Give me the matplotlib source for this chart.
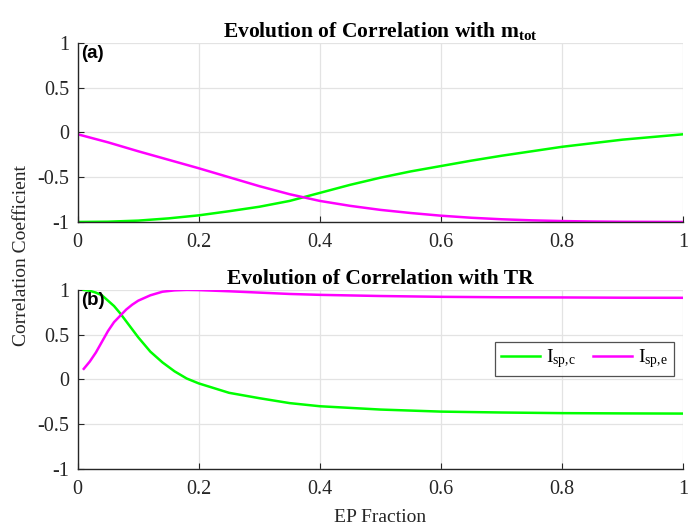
import matplotlib
matplotlib.use("Agg")
import matplotlib.pyplot as plt

# ── Data ──────────────────────────────────────────────────────────────────────
EP_TOP = [0.00, 0.05, 0.10, 0.15, 0.20, 0.25, 0.30, 0.35, 0.40, 0.45, 0.50,
          0.55, 0.60, 0.65, 0.70, 0.75, 0.80, 0.85, 0.90, 0.95, 1.00]
MTOT_ISPC = [-1.000, -0.997, -0.985, -0.960, -0.926, -0.880, -0.830, -0.765, -0.675,
             -0.585, -0.505, -0.435, -0.375, -0.315, -0.260, -0.210, -0.160, -0.120,
             -0.080, -0.050, -0.020]
MTOT_ISPE = [-0.020, -0.110, -0.210, -0.305, -0.400, -0.500, -0.600, -0.690, -0.765,
             -0.820, -0.865, -0.900, -0.930, -0.953, -0.970, -0.982, -0.990, -0.995,
             -0.998, -0.999, -1.000]

EP_BOT = [0.01, 0.02, 0.03, 0.04, 0.05, 0.06, 0.07, 0.08, 0.09, 0.10, 0.12, 0.14,
          0.16, 0.18, 0.20, 0.25, 0.30, 0.35, 0.40, 0.50, 0.60, 0.70, 0.80, 0.90, 1.00]
TR_ISPC = [1.000, 0.990, 0.970, 0.940, 0.880, 0.820, 0.740, 0.650, 0.560, 0.470,
           0.310, 0.190, 0.090, 0.010, -0.045, -0.150, -0.210, -0.265, -0.300,
           -0.337, -0.360, -0.370, -0.377, -0.380, -0.382]
TR_ISPE = [0.118, 0.200, 0.300, 0.420, 0.540, 0.640, 0.710, 0.780, 0.835, 0.880,
           0.940, 0.980, 0.995, 1.000, 0.998, 0.985, 0.970, 0.955, 0.945, 0.932,
           0.923, 0.918, 0.916, 0.913, 0.912]

X_TICKS = [0, 0.2, 0.4, 0.6, 0.8, 1]
X_TICKLABELS = ["0", "0.2", "0.4", "0.6", "0.8", "1"]
Y_TICKS = [-1, -0.5, 0, 0.5, 1]
Y_TICKLABELS = ["-1", "-0.5", "0", "0.5", "1"]

LABEL_C = r"$\mathrm{I_{sp{,}c}}$"
LABEL_E = r"$\mathrm{I_{sp{,}e}}$"

GREEN = "#00ff00"
MAGENTA = "#ff00ff"
AXIS_GRAY = "#262626"

plt.rcParams["font.family"] = ["Liberation Serif", "DejaVu Serif"]
plt.rcParams["mathtext.fontset"] = "custom"
plt.rcParams["mathtext.rm"] = "Liberation Serif"
plt.rcParams["mathtext.it"] = "Liberation Serif:italic"
plt.rcParams["mathtext.bf"] = "Liberation Serif:bold"


def style_axes(ax, tag):
    ax.set_xlim(0, 1)
    ax.set_ylim(-1, 1)
    ax.set_xticks(X_TICKS)
    ax.set_xticklabels(X_TICKLABELS)
    ax.set_yticks(Y_TICKS)
    ax.set_yticklabels(Y_TICKLABELS)
    ax.tick_params(direction="in", length=4, width=0.8, colors=AXIS_GRAY,
                   labelsize=14.5)
    ax.tick_params(axis="x", pad=8)
    ax.tick_params(axis="y", pad=6)
    ax.grid(True, color="#e3e3e3", linewidth=0.9)
    ax.set_axisbelow(True)
    for side in ("top", "right"):
        ax.spines[side].set_visible(False)
    for side in ("left", "bottom"):
        ax.spines[side].set_color(AXIS_GRAY)
        ax.spines[side].set_linewidth(1.0)
    ax.text(0.006, 0.99, tag, transform=ax.transAxes, ha="left", va="top",
            fontsize=13.5, fontweight="bold", family="Liberation Sans")


fig = plt.figure(figsize=(7.0, 5.31), dpi=100)
ax1 = fig.add_axes([0.111, 0.582, 0.865, 0.337])
ax2 = fig.add_axes([0.111, 0.117, 0.865, 0.337])

ax1.plot(EP_TOP, MTOT_ISPC, color=GREEN, linewidth=1.8, label=LABEL_C)
ax1.plot(EP_TOP, MTOT_ISPE, color=MAGENTA, linewidth=1.8, label=LABEL_E)
style_axes(ax1, "(a)")
ax1.set_title(r"Evolution of Correlation with $\mathbf{m_{tot}}$",
              fontsize=15.5, fontweight="bold", pad=4)

ax2.plot(EP_BOT, TR_ISPC, color=GREEN, linewidth=1.8, label=LABEL_C)
ax2.plot(EP_BOT, TR_ISPE, color=MAGENTA, linewidth=1.8, label=LABEL_E)
style_axes(ax2, "(b)")
ax2.set_title("Evolution of Correlation with TR", fontsize=15.5, fontweight="bold", pad=4)

leg = ax2.legend(loc="center", bbox_to_anchor=(0.837, 0.615), ncol=2, fontsize=14,
                 frameon=True, fancybox=False, edgecolor=AXIS_GRAY, handlelength=2.0,
                 handletextpad=0.3, columnspacing=0.9, borderpad=0.3)
leg.get_frame().set_linewidth(0.9)

fig.text(0.031, 0.518, "Correlation Coefficient", rotation=90, ha="center",
         va="center", fontsize=14, color=AXIS_GRAY)
fig.text(0.543, 0.026, "EP Fraction", ha="center", va="center", fontsize=14,
         color=AXIS_GRAY)

fig.savefig("out.png", dpi=100)
